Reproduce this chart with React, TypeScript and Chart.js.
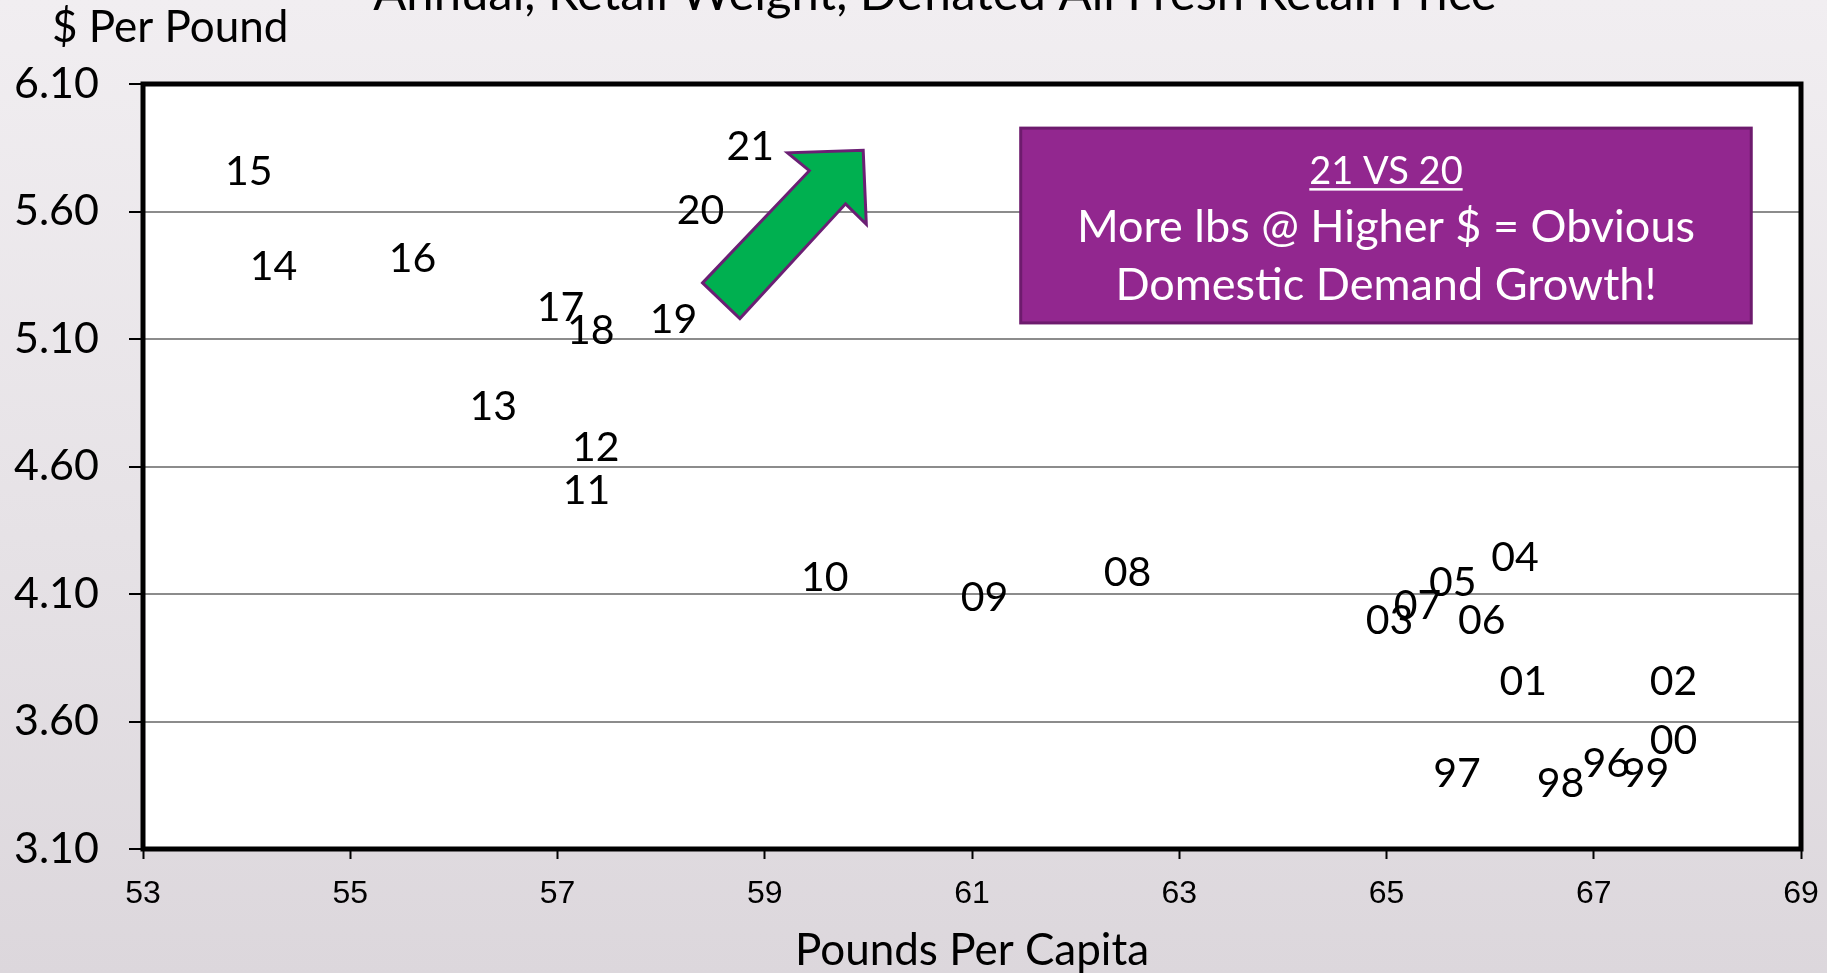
import React, { useEffect, useRef } from 'react';
import { Chart, registerables } from 'chart.js';

Chart.register(...registerables);

// ---- Data ----
const yearLabels = ['96', '97', '98', '99', '00', '01', '02', '03', '04', '05', '06', '07', '08', '09', '10', '11', '12', '13', '14', '15', '16', '17', '18', '19', '20', '21'];
const poundsPerCapita = [67.12, 65.68, 66.68, 67.5, 67.77, 66.32, 67.77, 65.03, 66.24, 65.64, 65.92, 65.3, 62.5, 61.12, 59.58, 57.28, 57.37, 56.38, 54.26, 54.02, 55.6, 57.03, 57.32, 58.12, 58.38, 58.86];
const pricePerPound = [3.44, 3.4, 3.36, 3.4, 3.53, 3.76, 3.76, 4.0, 4.25, 4.15, 4.0, 4.06, 4.19, 4.09, 4.17, 4.51, 4.68, 4.84, 5.39, 5.76, 5.42, 5.23, 5.14, 5.18, 5.61, 5.86];

const xMin = 53;
const xMax = 69;
const xStep = 2;
const yMin = 3.1;
const yMax = 6.1;
const yStep = 0.5;

const chartTitle = 'Annual, Retail Weight, Deflated All Fresh Retail Price';
const yAxisTitle = '$ Per Pound';
const xAxisTitle = 'Pounds Per Capita';
const calloutTitle = '21 VS 20';
const calloutLines = ['More lbs @ Higher $ = Obvious', 'Domestic Demand Growth!'];

// annotation geometry (data coordinates)
const arrowXs = [58.4, 59.43, 59.22, 59.95, 59.98, 59.78, 58.76];
const arrowYs = [5.32, 5.76, 5.83, 5.84, 5.55, 5.63, 5.18];
const calloutBox = { x0: 61.47, x1: 68.52, y0: 5.927, y1: 5.163 };

const W = 1827;
const H = 973;
const FONT = 'Lato, "Open Sans", sans-serif';
const LABEL_SIZE = 41;

const overlayPlugin = {
  id: 'overlay',
  afterDatasetsDraw(chart: any) {
    const { ctx, scales } = chart;
    const xs = scales.x;
    const ys = scales.y;
    ctx.save();
    // data labels
    ctx.fillStyle = '#000';
    ctx.font = `${LABEL_SIZE}px ${FONT}`;
    ctx.textAlign = 'center';
    ctx.textBaseline = 'alphabetic';
    yearLabels.forEach((lab, i) => {
      const px = xs.getPixelForValue(poundsPerCapita[i]);
      const py = ys.getPixelForValue(pricePerPound[i]);
      ctx.fillText(lab, px, py + (0.72 * LABEL_SIZE) / 2);
    });

    // arrow
    ctx.beginPath();
    arrowXs.forEach((vx, i) => {
      const px = xs.getPixelForValue(vx);
      const py = ys.getPixelForValue(arrowYs[i]);
      if (i === 0) ctx.moveTo(px, py);
      else ctx.lineTo(px, py);
    });
    ctx.closePath();
    ctx.fillStyle = '#00b050';
    ctx.fill();
    ctx.lineWidth = 3;
    ctx.strokeStyle = '#6b1f74';
    ctx.lineJoin = 'miter';
    ctx.stroke();

    // callout box
    const bx0 = xs.getPixelForValue(calloutBox.x0);
    const bx1 = xs.getPixelForValue(calloutBox.x1);
    const by0 = ys.getPixelForValue(calloutBox.y0);
    const by1 = ys.getPixelForValue(calloutBox.y1);
    ctx.fillStyle = '#92278f';
    ctx.fillRect(bx0, by0, bx1 - bx0, by1 - by0);
    ctx.lineWidth = 3;
    ctx.strokeStyle = '#6d1b6d';
    ctx.strokeRect(bx0, by0, bx1 - bx0, by1 - by0);
    const cx = (bx0 + bx1) / 2;
    ctx.fillStyle = '#fff';
    ctx.textAlign = 'center';
    ctx.font = `38px ${FONT}`;
    const t1y = by0 + 56;
    ctx.fillText(calloutTitle, cx, t1y);
    const tw = ctx.measureText(calloutTitle).width;
    ctx.fillRect(cx - tw / 2, t1y + 4, tw, 2.5);
    ctx.font = `45px ${FONT}`;
    ctx.fillText(calloutLines[0], cx, by0 + 114);
    ctx.fillText(calloutLines[1], cx, by0 + 172);
    ctx.restore();
  },
  afterDraw(chart: any) {
    const { ctx, chartArea } = chart;
    ctx.save();
    ctx.lineWidth = 5;
    ctx.strokeStyle = '#000';
    ctx.strokeRect(chartArea.left, chartArea.top, chartArea.right - chartArea.left, chartArea.bottom - chartArea.top);

    ctx.fillStyle = '#000';
    ctx.textBaseline = 'alphabetic';
    ctx.textAlign = 'center';
    ctx.font = `49px ${FONT}`;
    ctx.fillText(chartTitle, 935, 10);
    ctx.textAlign = 'left';
    ctx.font = `44px ${FONT}`;
    ctx.fillText(yAxisTitle, 52, 42);
    ctx.textAlign = 'center';
    ctx.font = `44px ${FONT}`;
    ctx.fillText(xAxisTitle, (chartArea.left + chartArea.right) / 2, 965);
    ctx.restore();
  },
};

export default function App() {
  const canvasRef = useRef<HTMLCanvasElement | null>(null);

  useEffect(() => {
    document.body.style.margin = '0';
    let chart: Chart | null = null;
    let cancelled = false;
    const make = () => {
      if (cancelled || !canvasRef.current) return;
      chart = new Chart(canvasRef.current, {
        type: 'scatter',
        data: {
          datasets: [
            {
              label: 'Years',
              data: poundsPerCapita.map((x, i) => ({ x, y: pricePerPound[i] })),
              pointRadius: 0,
              pointHoverRadius: 0,
              showLine: false,
            },
          ],
        },
        options: {
          animation: false,
          responsive: false,
          devicePixelRatio: 1,
          layout: { padding: { top: 84, right: 26, left: 0, bottom: 0 } },
          plugins: { legend: { display: false }, tooltip: { enabled: false }, title: { display: false } },
          scales: {
            x: {
              type: 'linear',
              min: xMin,
              max: xMax,
              ticks: {
                stepSize: xStep,
                color: '#000',
                font: { family: '"Liberation Sans Narrow", "Liberation Sans", sans-serif', size: 32 },
                padding: 16,
                maxRotation: 0,
              },
              grid: { drawOnChartArea: false, drawTicks: true, tickLength: 10, tickColor: '#000', tickWidth: 2 },
              border: { display: false },
              afterFit: (s: any) => {
                s.height = 124;
                s.paddingLeft = 0;
                s.paddingRight = 0;
              },
            },
            y: {
              type: 'linear',
              min: yMin,
              max: yMax,
              ticks: {
                stepSize: yStep,
                color: '#000',
                font: { family: FONT, size: 43 },
                padding: 30,
                callback: (v: any) => Number(v).toFixed(2),
              },
              grid: {
                color: '#8c8c8c',
                lineWidth: 2,
                drawTicks: true,
                tickLength: 14,
                tickColor: '#000',
                tickWidth: 2,
              },
              border: { display: false },
              afterFit: (s: any) => {
                s.width = 143;
                s.paddingTop = 0;
                s.paddingBottom = 0;
              },
            },
          },
        },
        plugins: [
          {
            id: 'whiteArea',
            beforeDraw(c: any) {
              const { ctx, chartArea } = c;
              ctx.save();
              ctx.fillStyle = '#fff';
              ctx.fillRect(chartArea.left, chartArea.top, chartArea.right - chartArea.left, chartArea.bottom - chartArea.top);
              ctx.restore();
            },
          },
          overlayPlugin,
        ],
      });
    };
    const fontsReady = (document as any).fonts
      ? Promise.all([
          (document as any).fonts.load(`40px Lato`),
          (document as any).fonts.load(`32px "Liberation Sans Narrow"`),
        ]).catch(() => null)
      : Promise.resolve(null);
    fontsReady.then(make);
    return () => {
      cancelled = true;
      if (chart) chart.destroy();
    };
  }, []);

  return (
    <div
      style={{
        position: 'absolute',
        left: 0,
        top: 0,
        width: W,
        height: H,
        background: 'linear-gradient(180deg, #f1eef1 0%, #e6e2e6 55%, #dcd7dc 100%)',
        overflow: 'hidden',
      }}
    >
      <canvas ref={canvasRef} width={W} height={H} style={{ display: 'block', width: W, height: H }} />
    </div>
  );
}
